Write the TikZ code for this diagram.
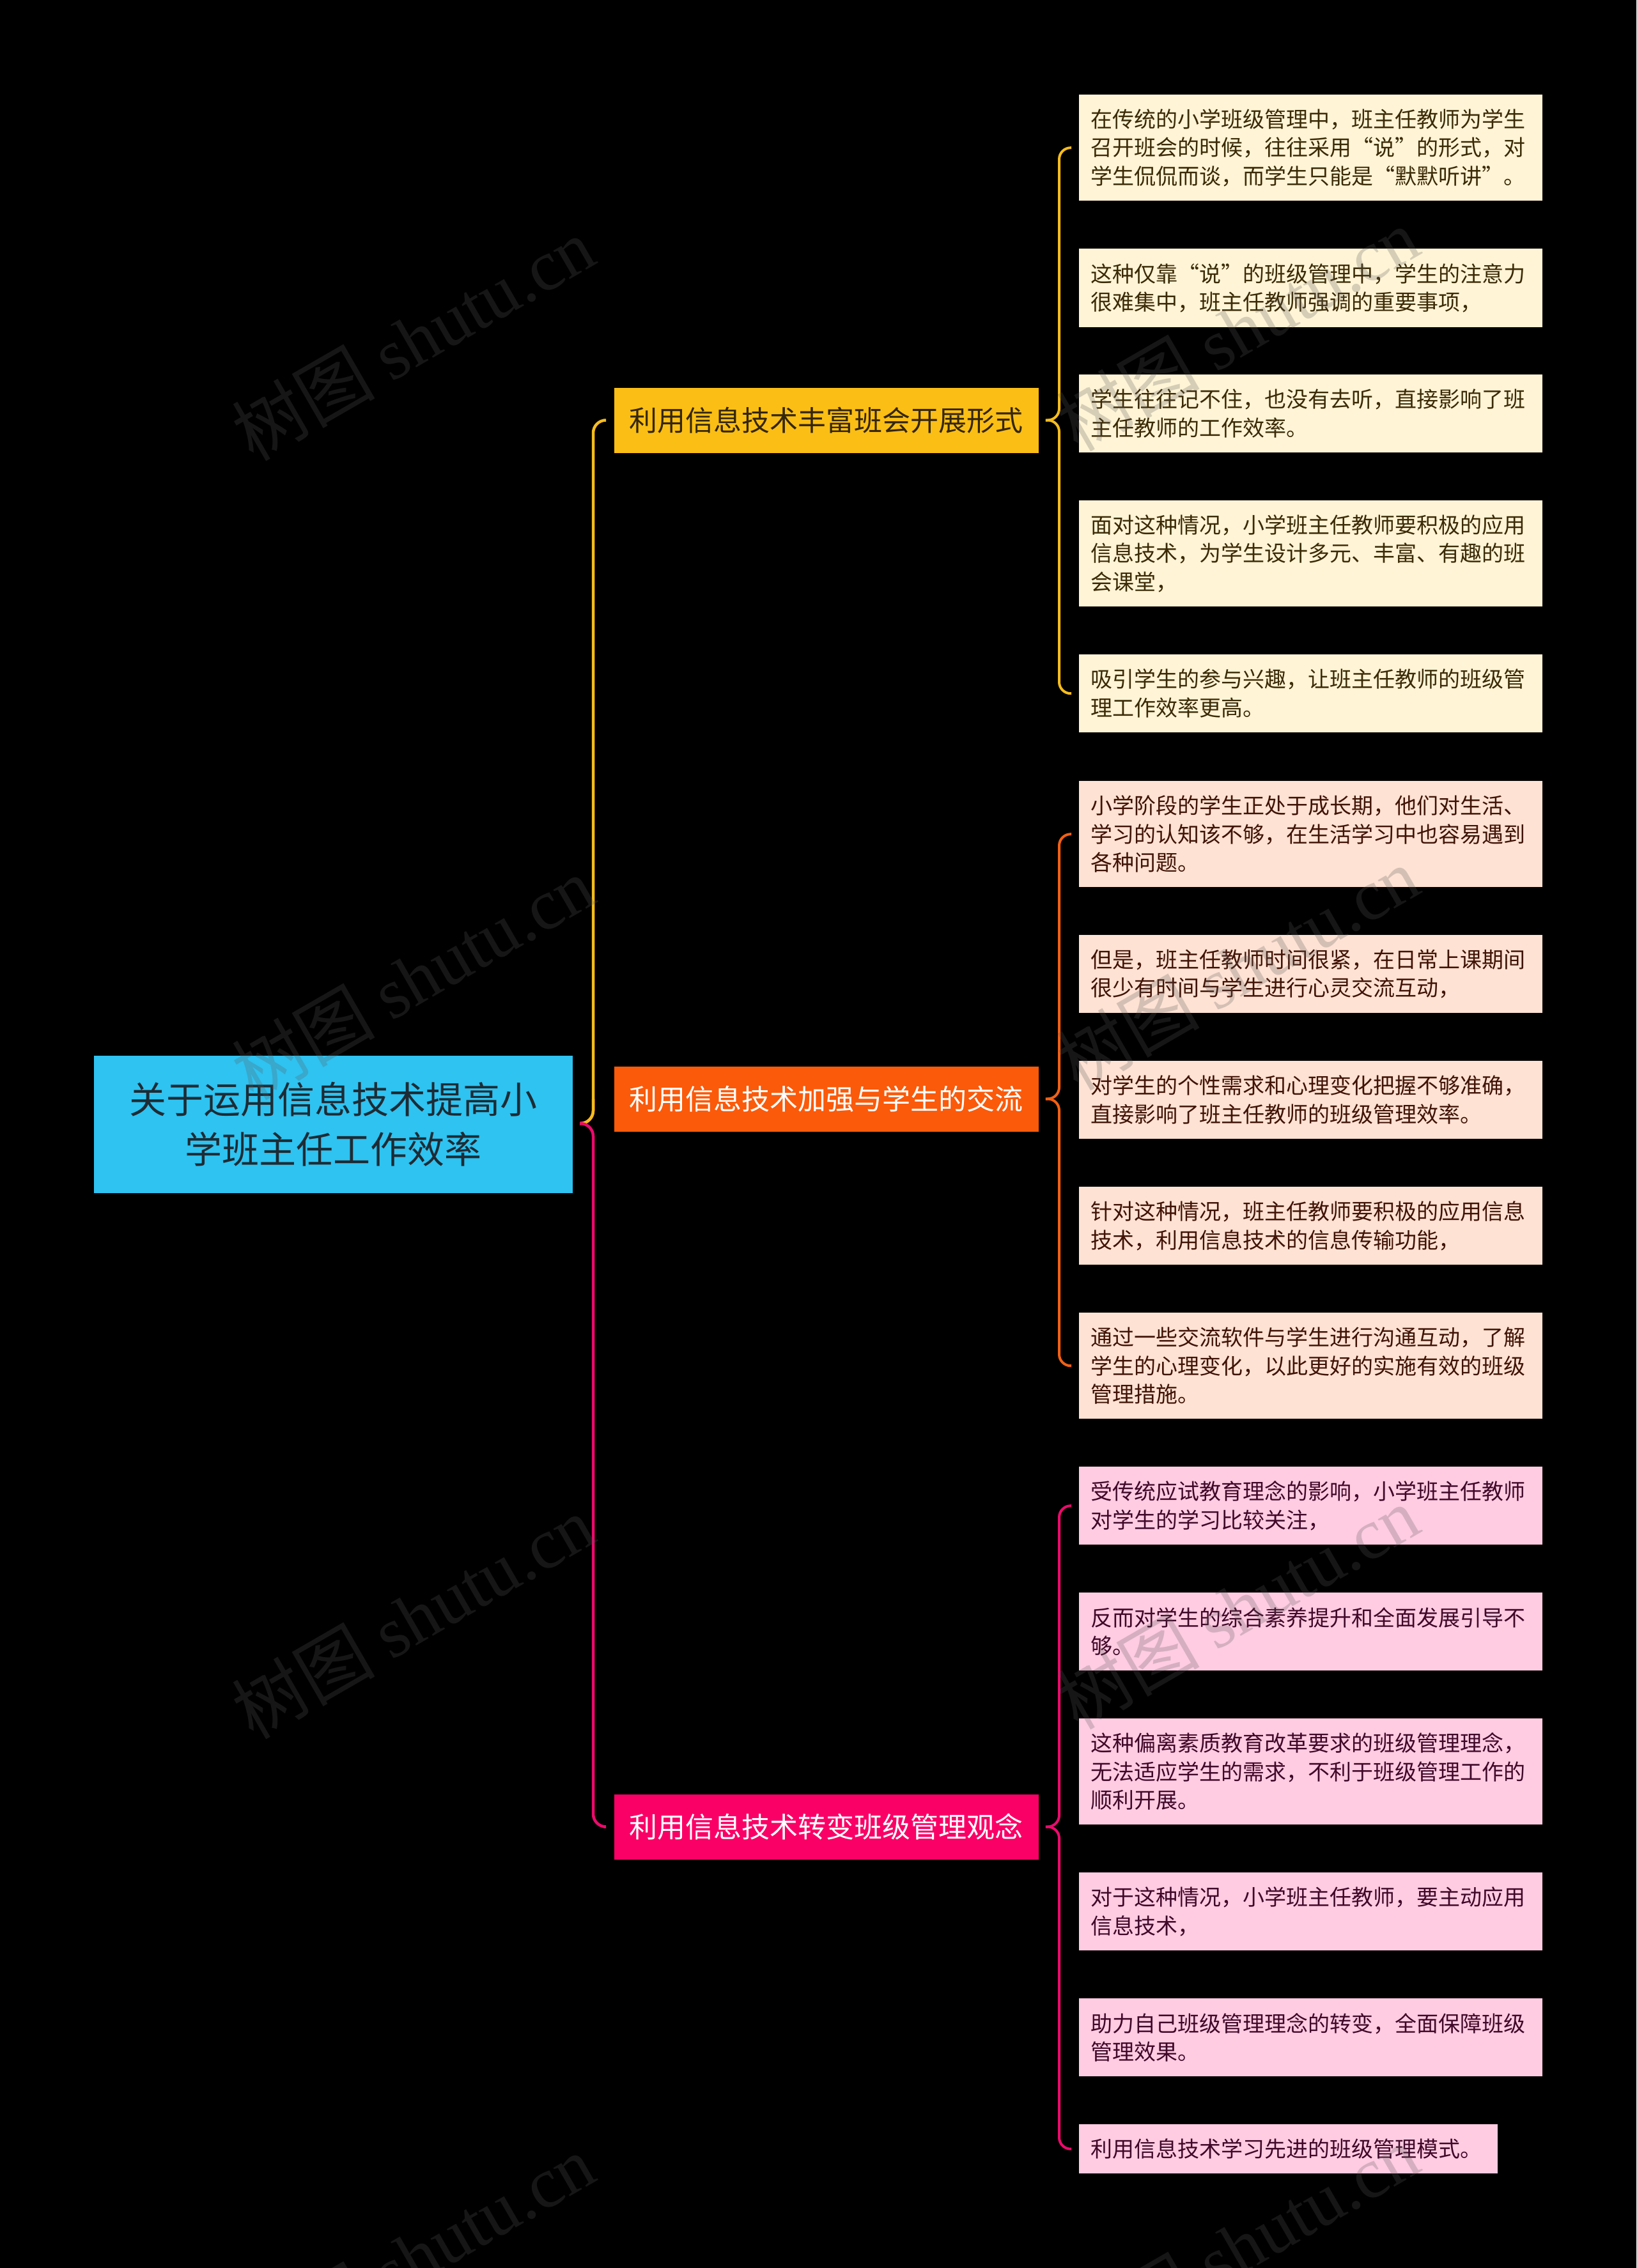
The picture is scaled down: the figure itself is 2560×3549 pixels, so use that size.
\documentclass[tikz,border=0pt]{standalone}
\usepackage{fontspec}
\setmainfont{Noto Sans CJK SC}
\newfontfamily\wmfont{Liberation Serif}
\usetikzlibrary{calc}
\definecolor{rootfill}{HTML}{2EC3F1}
\definecolor{roottext}{HTML}{1E2B34}
\definecolor{yfill}{HTML}{FBBE15}
\definecolor{ytext}{HTML}{33260A}
\definecolor{ofill}{HTML}{FA5A0A}
\definecolor{pfill}{HTML}{FA0066}
\definecolor{yline}{HTML}{F4BC1E}
\definecolor{oline}{HTML}{F26014}
\definecolor{pline}{HTML}{EC0A6C}
\definecolor{lfA}{HTML}{FFF4D6}
\definecolor{ltA}{HTML}{3B2A06}
\definecolor{lfB}{HTML}{FEE2D3}
\definecolor{ltB}{HTML}{401306}
\definecolor{lfC}{HTML}{FFCCE2}
\definecolor{ltC}{HTML}{400828}
\definecolor{wmgray}{HTML}{5A5A5A}
\tikzset{
  rootbox/.style={fill=rootfill, text=roottext, minimum width=749pt, minimum height=215pt,
    inner sep=0pt, align=center, font=\fontsize{58}{78}\selectfont},
  branchbox/.style={anchor=west, minimum width=664pt, minimum height=102pt, inner sep=0pt,
    align=center, font=\fontsize{44}{52}\selectfont},
  leafbox/.style={anchor=north west, text width=689pt, inner xsep=18pt, inner ysep=0pt,
    align=left, font=\fontsize{34}{44.5}\selectfont},
  leafA/.style={leafbox, fill=lfA, text=ltA},
  leafB/.style={leafbox, fill=lfB, text=ltB},
  leafC/.style={leafbox, fill=lfC, text=ltC},
  mainline/.style={line width=4.5pt, rounded corners=20pt},
  leafline/.style={line width=4pt, rounded corners=18pt},
  wm/.style={rotate=30, text=wmgray, text opacity=0.25, inner sep=0pt,
    font=\fontsize{112}{120}\selectfont}
}
\begin{document}
\begin{tikzpicture}[x=1pt,y=-1pt]
\fill[black] (0,0) rectangle (2560,3549);
\useasboundingbox (0,0) rectangle (2560,3549);

% root and branches
\node[rootbox] (root) at (521.5,1759.5) {关于运用信息技术提高小\\学班主任工作效率};
\node[branchbox, fill=yfill, text=ytext] (b1) at (960.5,657.5) {利用信息技术丰富班会开展形式};
\node[branchbox, fill=ofill, text=white] (b2) at (960.5,1719.5) {利用信息技术加强与学生的交流};
\node[branchbox, fill=pfill, text=white] (b3) at (960.5,2858.5) {利用信息技术转变班级管理观念};

% leaves group 1
\node[leafA, minimum height=166pt] (a1) at (1688,148) {在传统的小学班级管理中，班主任教师为学生\\召开班会的时候，往往采用“说”的形式，对\\学生侃侃而谈，而学生只能是“默默听讲”。};
\node[leafA, minimum height=123pt] (a2) at (1688,389) {这种仅靠“说”的班级管理中，学生的注意力\\很难集中，班主任教师强调的重要事项，};
\node[leafA, minimum height=122pt] (a3) at (1688,586) {学生往往记不住，也没有去听，直接影响了班\\主任教师的工作效率。};
\node[leafA, minimum height=166pt] (a4) at (1688,783) {面对这种情况，小学班主任教师要积极的应用\\信息技术，为学生设计多元、丰富、有趣的班\\会课堂，};
\node[leafA, minimum height=122pt] (a5) at (1688,1024) {吸引学生的参与兴趣，让班主任教师的班级管\\理工作效率更高。};

% leaves group 2
\node[leafB, minimum height=166pt] (c1) at (1688,1222) {小学阶段的学生正处于成长期，他们对生活、\\学习的认知该不够，在生活学习中也容易遇到\\各种问题。};
\node[leafB, minimum height=122pt] (c2) at (1688,1463) {但是，班主任教师时间很紧，在日常上课期间\\很少有时间与学生进行心灵交流互动，};
\node[leafB, minimum height=122pt] (c3) at (1688,1660) {对学生的个性需求和心理变化把握不够准确，\\直接影响了班主任教师的班级管理效率。};
\node[leafB, minimum height=122pt] (c4) at (1688,1857) {针对这种情况，班主任教师要积极的应用信息\\技术，利用信息技术的信息传输功能，};
\node[leafB, minimum height=166pt] (c5) at (1688,2054) {通过一些交流软件与学生进行沟通互动，了解\\学生的心理变化，以此更好的实施有效的班级\\管理措施。};

% leaves group 3
\node[leafC, minimum height=122pt] (d1) at (1688,2295) {受传统应试教育理念的影响，小学班主任教师\\对学生的学习比较关注，};
\node[leafC, minimum height=122pt] (d2) at (1688,2492) {反而对学生的综合素养提升和全面发展引导不\\够。};
\node[leafC, minimum height=166pt] (d3) at (1688,2689) {这种偏离素质教育改革要求的班级管理理念，\\无法适应学生的需求，不利于班级管理工作的\\顺利开展。};
\node[leafC, minimum height=122pt] (d4) at (1688,2930) {对于这种情况，小学班主任教师，要主动应用\\信息技术，};
\node[leafC, minimum height=122pt] (d5) at (1688,3127) {助力自己班级管理理念的转变，全面保障班级\\管理效果。};
\node[leafC, minimum height=77pt, text width=619pt] (d6) at (1688,3324) {利用信息技术学习先进的班级管理模式。};

% root connectors
\coordinate (J) at (907,1758);
\coordinate (T) at (928,0);
\coordinate (b1in) at ($(b1.west)+(-16,0)$);
\coordinate (b2in) at ($(b2.west)+(-16,0)$);
\coordinate (b3in) at ($(b3.west)+(-16,0)$);
\draw[mainline, oline] (J) -- (J -| T) -- (T |- b2in);
\draw[mainline, yline] (J) -- (J -| T) -- (T |- b1in) -- (b1in);
\draw[mainline, pline] (J) -- (J -| T) -- (T |- b3in) -- (b3in);

% leaf braces
\coordinate (L) at (1657,0);
\foreach \b/\f/\l/\col in {b1/a1/a5/yline, b2/c1/c5/oline, b3/d1/d6/pline}{
  \coordinate (tip) at ($(\b.east)+(11,0)$);
  \coordinate (fin) at ($(\f.west)+(-12,0)$);
  \coordinate (lin) at ($(\l.west)+(-12,0)$);
  \draw[leafline, \col] (tip) -- (tip -| L) -- (L |- fin) -- (fin);
  \draw[leafline, \col] (tip) -- (tip -| L) -- (L |- lin) -- (lin);
}

% watermarks
\foreach \k in {0,1,2,3}{
  \node[wm] (wl\k) at (646,530+1000*\k) {树图 {\wmfont shutu.cn}};
  \node[wm] (wr\k) at (1936,515+1000*\k) {树图 {\wmfont shutu.cn}};
}
\end{tikzpicture}
\end{document}
